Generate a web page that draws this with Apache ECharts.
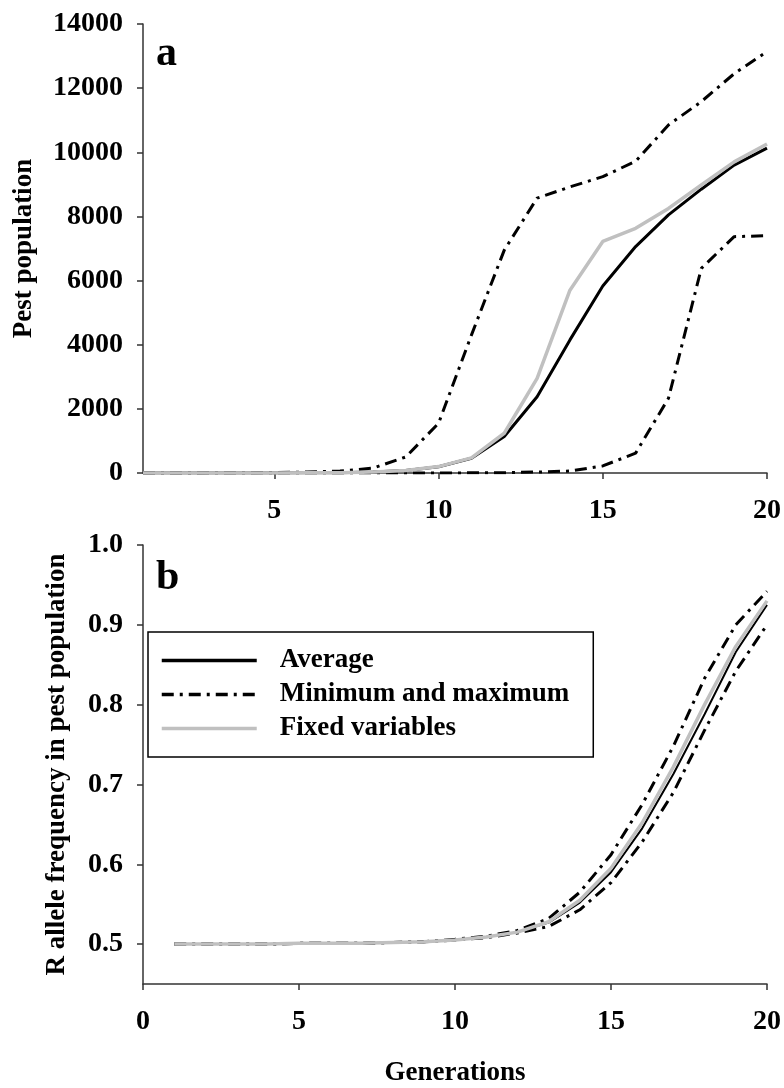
<!DOCTYPE html>
<html>
<head>
<meta charset="utf-8">
<script src="https://cdn.jsdelivr.net/npm/echarts@6/dist/echarts.min.js"></script>
<style>
    html, body { margin: 0; padding: 0; background: #fff; }
    #chart { width: 784px; height: 1088px; }
</style>
</head>
<body>
<div id="chart"></div>
<script>
    // generations on the x axis
    const generations = [1, 2, 3, 4, 5, 6, 7, 8, 9, 10, 11, 12, 13, 14, 15, 16, 17, 18, 19, 20];

    // panel a: pest population
    const popAverage = [0, 0, 0, 0, 0, 5, 10, 30, 80, 196, 460, 1140, 2380, 4150, 5830, 7060, 8050, 8850, 9600, 10130];
    const popMax = [0, 0, 5, 10, 15, 30, 60, 150, 500, 1550, 4300, 6950, 8570, 8920, 9240, 9720, 10850, 11580, 12450, 13140];
    const popMin = [0, 0, 0, 0, 0, 0, 0, 0, 0, 0, 5, 10, 30, 60, 220, 620, 2330, 6380, 7370, 7400];
    const popFixed = [0, 0, 0, 0, 0, 5, 10, 30, 80, 200, 470, 1240, 2950, 5700, 7220, 7630, 8250, 8980, 9700, 10260];

    // panel b: R allele frequency
    const freqAverage = [0.500, 0.500, 0.500, 0.500, 0.501, 0.501, 0.501, 0.502, 0.503, 0.505, 0.509, 0.515, 0.527, 0.552, 0.590, 0.645, 0.713, 0.788, 0.866, 0.925];
    const freqMax = [0.500, 0.500, 0.500, 0.500, 0.501, 0.501, 0.501, 0.502, 0.503, 0.506, 0.510, 0.517, 0.532, 0.565, 0.612, 0.675, 0.748, 0.833, 0.900, 0.942];
    const freqMin = [0.500, 0.500, 0.500, 0.500, 0.501, 0.501, 0.501, 0.502, 0.503, 0.505, 0.508, 0.514, 0.522, 0.543, 0.577, 0.628, 0.690, 0.768, 0.842, 0.900];
    const freqFixed = [0.500, 0.500, 0.500, 0.500, 0.501, 0.501, 0.501, 0.502, 0.503, 0.505, 0.509, 0.515, 0.528, 0.555, 0.595, 0.652, 0.722, 0.800, 0.873, 0.930];

    // tick labels
    const popTopTicks = [5, 10, 15, 20];
    const freqTicks = [0.5, 0.6, 0.7, 0.8, 0.9, 1.0];

    const FONT = '"Liberation Serif", "Times New Roman", serif';
    const AXIS_COLOR = '#333';
    const DASH_DOT = [12, 6, 3, 6];

    function pairs(values) {
        return generations.map((g, i) => [g, values[i]]);
    }

    function lineSeries(name, values, axisIdx, color, width, type) {
        return {
            name: name,
            type: 'line',
            xAxisIndex: axisIdx,
            yAxisIndex: axisIdx,
            symbol: 'none',
            silent: true,
            lineStyle: { color: color, width: width, type: type || 'solid' },
            itemStyle: { color: color },
            data: pairs(values)
        };
    }

    const axisLine = { show: true, lineStyle: { color: AXIS_COLOR, width: 1.5 } };
    const axisTick = { show: true, length: 6, inside: false, lineStyle: { color: AXIS_COLOR, width: 1.5 } };
    const labelStyle = { color: '#000', fontFamily: FONT, fontWeight: 'bold', fontSize: 28 };
    const nameStyle = { color: '#000', fontFamily: FONT, fontWeight: 'bold', fontSize: 27 };

    let myChart = echarts.init(document.getElementById('chart'));
    myChart.setOption({
        backgroundColor: '#fff',
        animation: false,
        grid: [
            { left: 143, right: 15, top: 24, height: 449 },
            { left: 143, right: 16, top: 545, height: 448 }
        ],
        xAxis: [
            {
                type: 'value', gridIndex: 0, min: 1, max: 20,
                axisLine: axisLine,
                axisTick: Object.assign({ customValues: popTopTicks }, axisTick),
                axisLabel: Object.assign({ customValues: popTopTicks, margin: 24 }, labelStyle),
                splitLine: { show: false }
            },
            {
                type: 'value', gridIndex: 1, min: 0, max: 20, interval: 5,
                name: 'Generations', nameLocation: 'middle', nameGap: 76,
                nameTextStyle: nameStyle,
                axisLine: axisLine,
                axisTick: axisTick,
                axisLabel: Object.assign({ margin: 24 }, labelStyle),
                splitLine: { show: false }
            }
        ],
        yAxis: [
            {
                type: 'value', gridIndex: 0, min: 0, max: 14000, interval: 2000,
                name: 'Pest population', nameLocation: 'middle', nameGap: 105, nameRotate: 90,
                nameTextStyle: nameStyle,
                axisLine: axisLine,
                axisTick: axisTick,
                axisLabel: Object.assign({ margin: 20, formatter: v => String(v) }, labelStyle),
                splitLine: { show: false }
            },
            {
                type: 'value', gridIndex: 1, min: 0.45, max: 1.0,
                name: 'R allele frequency in pest population', nameLocation: 'middle', nameGap: 72, nameRotate: 90,
                nameTextStyle: nameStyle,
                axisLine: axisLine,
                axisTick: Object.assign({ customValues: freqTicks }, axisTick),
                axisLabel: Object.assign({
                    customValues: freqTicks, margin: 20,
                    formatter: v => v.toFixed(1)
                }, labelStyle),
                splitLine: { show: false }
            }
        ],
        legend: {
            orient: 'vertical',
            left: 148,
            top: 632,
            selectedMode: false,
            data: ['Average', 'Minimum and maximum', 'Fixed variables'],
            itemWidth: 95,
            itemHeight: 26,
            itemGap: 7,
            padding: [15, 24, 15, 12],
            borderColor: '#000',
            borderWidth: 1.5,
            itemStyle: { opacity: 0 },
            lineStyle: { width: 3.5 },
            textStyle: { color: '#000', fontFamily: FONT, fontWeight: 'bold', fontSize: 27, padding: [0, 0, 0, 18] }
        },
        // panel letters
        graphic: [
            { type: 'text', left: 156, top: 33, style: { text: 'a', fill: '#000', font: 'bold 42px ' + FONT } },
            { type: 'text', left: 156, top: 557, style: { text: 'b', fill: '#000', font: 'bold 42px ' + FONT } }
        ],
        series: [
            lineSeries('Average', popAverage, 0, '#000', 3),
            lineSeries('Minimum and maximum', popMax, 0, '#000', 3, DASH_DOT),
            lineSeries('Minimum and maximum', popMin, 0, '#000', 3, DASH_DOT),
            lineSeries('Fixed variables', popFixed, 0, '#c0c0c0', 3.5),
            lineSeries('Average', freqAverage, 1, '#000', 2),
            lineSeries('Minimum and maximum', freqMax, 1, '#000', 3, DASH_DOT),
            lineSeries('Minimum and maximum', freqMin, 1, '#000', 3, DASH_DOT),
            lineSeries('Fixed variables', freqFixed, 1, '#c0c0c0', 3.5)
        ]
    });
</script>
</body>
</html>
